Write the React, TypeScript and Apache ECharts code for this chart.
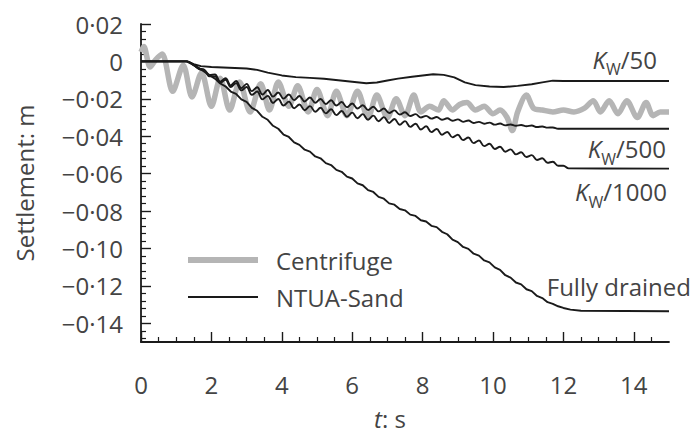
import React, { useEffect, useRef } from 'react';
import * as echarts from 'echarts';

// ---- tick arrays ----
const X_TICKS = [0, 2, 4, 6, 8, 10, 12, 14];
const X_MINOR = [0.5, 1, 1.5, 2.5, 3, 3.5, 4.5, 5, 5.5, 6.5, 7, 7.5, 8.5, 9, 9.5, 10.5, 11, 11.5, 12.5, 13, 13.5, 14.5];
const Y_TICKS = [0.02, 0, -0.02, -0.04, -0.06, -0.08, -0.1, -0.12, -0.14];
const Y_MINOR = [0.016, 0.012, 0.008, 0.004, -0.004, -0.008, -0.012, -0.016, -0.024, -0.028, -0.032, -0.036,
  -0.044, -0.048, -0.052, -0.056, -0.064, -0.068, -0.072, -0.076, -0.084, -0.088, -0.092, -0.096,
  -0.104, -0.108, -0.112, -0.116, -0.124, -0.128, -0.132, -0.136, -0.144, -0.148];

// ---- data ----
const CENTRIFUGE = [
  [0, 0.005], [0.08, 0.008], [0.26, -0.003], [0.42, 0.001], [0.6, 0.004], [0.9, -0.016], [1.2, -0.002],
  [1.45, -0.019], [1.72, -0.006], [2.0, -0.024], [2.25, -0.009], [2.52, -0.026], [2.8, -0.011], [3.1, -0.027],
  [3.4, -0.012], [3.65, -0.026], [3.9, -0.011], [4.2, -0.024], [4.45, -0.013], [4.75, -0.027], [5.0, -0.015],
  [5.3, -0.029], [5.55, -0.016], [5.85, -0.029], [6.15, -0.016], [6.45, -0.03], [6.7, -0.018], [7.0, -0.03],
  [7.25, -0.02], [7.5, -0.029], [7.75, -0.018], [7.95, -0.027], [8.2, -0.024], [8.45, -0.026], [8.6, -0.021],
  [8.85, -0.026], [9.05, -0.023], [9.26, -0.022], [9.5, -0.026], [9.75, -0.024], [10.0, -0.028], [10.2, -0.026],
  [10.4, -0.03], [10.55, -0.037], [10.7, -0.027], [10.95, -0.018], [11.15, -0.025], [11.4, -0.026], [11.7, -0.027],
  [12.0, -0.026], [12.3, -0.027], [12.6, -0.025], [12.85, -0.021], [13.05, -0.027], [13.3, -0.021], [13.55, -0.028],
  [13.8, -0.021], [14.1, -0.03], [14.35, -0.022], [14.55, -0.029], [14.75, -0.027], [15.0, -0.027],
];

const KW50 = [
  [0, 0], [1.3, 0], [1.5, -0.0015], [1.7, -0.0025], [2.0, -0.003], [2.5, -0.0034], [3.0, -0.0038], [3.3, -0.0045],
  [3.6, -0.006], [4.0, -0.0075], [4.4, -0.0084], [4.8, -0.0088], [5.2, -0.0093], [5.6, -0.0101], [6.0, -0.0109],
  [6.4, -0.0117], [6.7, -0.0113], [7.0, -0.0102], [7.3, -0.0092], [7.7, -0.0082], [8.0, -0.0075], [8.3, -0.0069],
  [8.6, -0.0072], [8.9, -0.0085], [9.2, -0.0112], [9.5, -0.0127], [9.9, -0.0134], [10.3, -0.0137], [10.7, -0.0131],
  [11.1, -0.0122], [11.4, -0.0112], [11.7, -0.0103], [12.0, -0.0105], [15, -0.0105],
];

const T_WAVE = [1.5, 1.65, 1.8, 1.95, 2.1, 2.25, 2.4, 2.55, 2.7, 2.85, 3.0, 3.15, 3.3, 3.45, 3.6, 3.75, 3.9, 4.05,
  4.2, 4.35, 4.5, 4.65, 4.8, 4.95, 5.1, 5.25, 5.4, 5.55, 5.7, 5.85, 6.0, 6.15, 6.3, 6.45, 6.6, 6.75, 6.9, 7.05,
  7.2, 7.35, 7.5, 7.65, 7.8, 7.95, 8.1, 8.25, 8.4, 8.55, 8.7, 8.85, 9.0, 9.15, 9.3, 9.45, 9.6, 9.75, 9.9, 10.05,
  10.2, 10.35, 10.5, 10.65, 10.8, 10.95, 11.1, 11.25, 11.4, 11.55, 11.7, 11.85, 12.0];

const KW500_WAVE = [-0.002, -0.0038, -0.0045, -0.0073, -0.007, -0.0108, -0.009, -0.0128, -0.0105, -0.0143,
  -0.012, -0.0159, -0.0138, -0.0177, -0.0153, -0.0188, -0.0166, -0.0199, -0.0177, -0.0207, -0.0185, -0.0214,
  -0.0193, -0.0221, -0.0201, -0.0228, -0.0208, -0.0236, -0.0217, -0.0245, -0.0225, -0.0252, -0.0234, -0.026,
  -0.0242, -0.0267, -0.0252, -0.0276, -0.0262, -0.0284, -0.0272, -0.0292, -0.0282, -0.03, -0.0291, -0.0306,
  -0.0297, -0.0312, -0.0304, -0.0317, -0.031, -0.0323, -0.0316, -0.0329, -0.0323, -0.0333, -0.0327, -0.0338,
  -0.0332, -0.0342, -0.0337, -0.0344, -0.034, -0.0347, -0.0343, -0.0351, -0.0348, -0.0354, -0.0353, -0.036, -0.036];
const KW500_TAIL = [[15, -0.036]];

const KW1000_WAVE = [-0.002, -0.0041, -0.005, -0.008, -0.008, -0.0115, -0.0098, -0.0137, -0.0116, -0.0155,
  -0.0137, -0.0179, -0.0161, -0.0203, -0.0184, -0.0222, -0.0201, -0.0236, -0.0215, -0.025, -0.023, -0.0261,
  -0.0239, -0.0269, -0.0248, -0.0278, -0.0256, -0.0287, -0.0265, -0.0296, -0.0274, -0.0304, -0.0282, -0.0312,
  -0.029, -0.032, -0.0298, -0.0329, -0.0308, -0.0339, -0.0319, -0.035, -0.0333, -0.0364, -0.0347, -0.0378,
  -0.0361, -0.0392, -0.0377, -0.0406, -0.0392, -0.0421, -0.0407, -0.0437, -0.0423, -0.0453, -0.044, -0.0468,
  -0.0456, -0.0483, -0.047, -0.0497, -0.0486, -0.0511, -0.0501, -0.0527, -0.0518, -0.0542, -0.0536, -0.0558, -0.0558];
const KW1000_TAIL = [[12.15, -0.0572], [15, -0.0573]];

const FD_WAVE = [-0.002, -0.0036, -0.0055, -0.0074, -0.0092, -0.0118, -0.0133, -0.0161, -0.0174, -0.0203,
  -0.0216, -0.0248, -0.0264, -0.0296, -0.0312, -0.0344, -0.036, -0.0391, -0.0404, -0.0433, -0.0446, -0.0472,
  -0.0482, -0.0508, -0.0518, -0.0544, -0.0554, -0.058, -0.059, -0.0616, -0.0626, -0.0652, -0.0662, -0.0688,
  -0.0698, -0.0724, -0.0734, -0.0759, -0.0766, -0.0789, -0.0796, -0.0819, -0.0826, -0.0849, -0.0856, -0.0879,
  -0.0886, -0.0911, -0.0924, -0.0953, -0.0966, -0.0992, -0.1002, -0.1028, -0.1038, -0.1064, -0.1074, -0.1101,
  -0.1114, -0.1143, -0.1156, -0.1182, -0.1192, -0.1218, -0.1228, -0.1254, -0.1265, -0.1287, -0.1296, -0.1309, -0.1318];
const FD_TAIL = [[12.2, -0.1327], [12.5, -0.1333], [15, -0.1336]];

const START = [[0, 0], [1.3, 0]];

const FONT = '"Open Sans", "Noto Sans", sans-serif';
const TXT = '#444';
const INK = '#1a1a1a';
const GRAY = '#b5b5b5';
const FS = 24;

const withWave = (wave: number[], tail: number[][]) => [
  ...START,
  ...T_WAVE.map((t, i) => [t, wave[i]]),
  ...tail,
];

const kwRich = {
  i: { fontStyle: 'italic', fontSize: FS, fontFamily: FONT, color: TXT, padding: [0, 0, 6, 0], verticalAlign: 'bottom' },
  s: { fontSize: 16, fontFamily: FONT, color: TXT, verticalAlign: 'bottom' },
  n: { fontSize: FS, fontFamily: FONT, color: TXT, padding: [0, 0, 6, 0], verticalAlign: 'bottom' },
};

function endMark(data: number[][], text: string, offset: number[], rich = true) {
  const last = data[data.length - 1];
  return {
    symbol: 'circle',
    symbolSize: 0,
    silent: true,
    animation: false,
    data: [
      {
        coord: [last[0], last[1]],
        label: {
          show: true,
          position: 'inside',
          align: 'right',
          verticalAlign: 'middle',
          offset,
          formatter: text,
          fontSize: FS,
          fontFamily: FONT,
          color: TXT,
          rich: rich ? kwRich : undefined,
        },
      },
    ],
  };
}

export default function App() {
  const ref = useRef<HTMLDivElement>(null);
  useEffect(() => {
    if (!ref.current) return;
    const chart = echarts.init(ref.current, undefined, { renderer: 'svg' });
    const kw500 = withWave(KW500_WAVE, KW500_TAIL);
    const kw1000 = withWave(KW1000_WAVE, KW1000_TAIL);
    const fd = withWave(FD_WAVE, FD_TAIL);
    const blackLine = { color: INK, width: 1.9 };
    const minorAxisBase = {
      type: 'value', show: true,
      axisLine: { show: true, onZero: false, lineStyle: { color: INK, width: 0, opacity: 0 } },
      axisLabel: { show: false },
      splitLine: { show: false },
    };
    const option: any = {
      animation: false,
      backgroundColor: '#fff',
      grid: { left: 141, right: 27, top: 24, bottom: 88, containLabel: false },
      legend: {
        data: [
          { name: 'Centrifuge', lineStyle: { width: 6, color: GRAY } },
          { name: 'NTUA-Sand', lineStyle: { width: 2, color: INK } },
        ],
        orient: 'vertical',
        left: 180,
        top: 242,
        itemWidth: 70,
        itemHeight: 26,
        itemGap: 11,
        itemStyle: { opacity: 0 },
        textStyle: { fontSize: FS, lineHeight: 26, color: TXT, fontFamily: FONT, padding: [0, 0, 0, 13] },
      },
      xAxis: [
        {
          type: 'value', min: 0, max: 15, position: 'bottom',
          axisLine: { onZero: false, lineStyle: { color: INK, width: 1.8 } },
          axisTick: { show: true, inside: true, length: 10, customValues: X_TICKS, lineStyle: { color: INK, width: 1.4 } },
          axisLabel: { customValues: X_TICKS, margin: 30, fontSize: FS, color: TXT, fontFamily: FONT },
          splitLine: { show: false },
          name: '{i|t}: s',
          nameLocation: 'middle',
          nameGap: 64,
          nameTextStyle: {
            fontSize: FS, color: TXT, fontFamily: FONT, padding: [0, 30, 0, 0],
            rich: { i: { fontStyle: 'italic', fontSize: FS, fontFamily: FONT, color: TXT } },
          },
        },
        {
          ...minorAxisBase, min: 0, max: 15, position: 'bottom',
          axisTick: { show: true, inside: true, length: 5, customValues: X_MINOR, lineStyle: { color: INK, width: 1.2 } },
        },
      ],
      yAxis: [
        {
          type: 'value', min: -0.15, max: 0.02, position: 'left',
          axisLine: { onZero: false, lineStyle: { color: INK, width: 1.8 } },
          axisTick: { show: true, inside: true, length: 10, customValues: Y_TICKS, lineStyle: { color: INK, width: 1.4 } },
          axisLabel: {
            customValues: Y_TICKS, margin: 18, fontSize: FS, color: TXT, fontFamily: FONT,
            formatter: (v: number) => (Math.abs(v) < 1e-9 ? '0' : (v < 0 ? '\u2212' : '') + Math.abs(v).toFixed(2).replace('.', '\u00b7')),
          },
          splitLine: { show: false },
          name: 'Settlement: m',
          nameLocation: 'middle',
          nameGap: 105,
          nameTextStyle: { fontSize: FS, color: TXT, fontFamily: FONT },
        },
        {
          ...minorAxisBase, min: -0.15, max: 0.02, position: 'left',
          axisTick: { show: true, inside: true, length: 5, customValues: Y_MINOR, lineStyle: { color: INK, width: 1.2 } },
        },
      ],
      series: [
        {
          name: 'Centrifuge', type: 'line', data: CENTRIFUGE, symbol: 'none', smooth: 0.3,
          lineStyle: { color: GRAY, width: 5.5 }, itemStyle: { color: GRAY }, z: 1,
        },
        {
          name: 'Kw50', type: 'line', data: KW50, symbol: 'none', lineStyle: blackLine, itemStyle: { color: INK }, z: 2,
          markPoint: endMark(KW50, '{i|K}{s|W}{n|/50}', [-12, -19]),
        },
        {
          name: 'Kw500', type: 'line', data: kw500, symbol: 'none', smooth: 0.4, lineStyle: blackLine, itemStyle: { color: INK }, z: 2,
          markPoint: endMark(kw500, '{i|K}{s|W}{n|/500}', [-3, 23]),
        },
        {
          name: 'Kw1000', type: 'line', data: kw1000, symbol: 'none', smooth: 0.4, lineStyle: blackLine, itemStyle: { color: INK }, z: 2,
          markPoint: endMark(kw1000, '{i|K}{s|W}{n|/1000}', [-2, 26]),
        },
        {
          name: 'NTUA-Sand', type: 'line', data: fd, symbol: 'none', lineStyle: blackLine, itemStyle: { color: INK }, z: 2,
          markPoint: endMark(fd, 'Fully drained', [22, -25], false),
        },
      ],
    };
    chart.setOption(option);
    return () => chart.dispose();
  }, []);
  return <div ref={ref} style={{ position: 'fixed', left: 0, top: 0, width: 696, height: 435 }} />;
}
